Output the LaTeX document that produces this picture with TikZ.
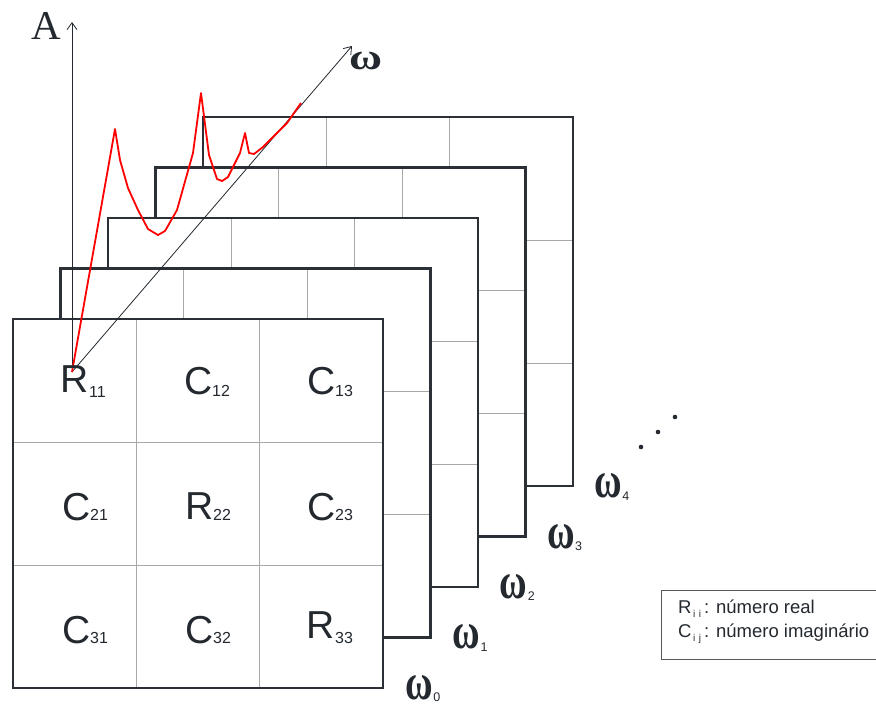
\documentclass[tikz,border=0pt]{standalone}
\usepackage{fontspec}
\usepackage{graphicx}
\setmainfont{Liberation Sans}
\newfontfamily\seriffont{Liberation Serif}
\usetikzlibrary{arrows.meta,calc}
\definecolor{framecol}{HTML}{2B3036}
\definecolor{gridcol}{HTML}{A8A8A8}
\definecolor{inkcol}{HTML}{23292F}
\definecolor{curvecol}{HTML}{FF0000}
\definecolor{legcol}{HTML}{555A5F}
\newcommand\bigomega{\scalebox{0.74}[1]{\fontsize{51}{51}\seriffont\bfseries ω}}
\begin{document}
\begin{tikzpicture}[x=1pt,y=-1pt,
  frameline/.style={draw=framecol, line width=2.6pt, line join=miter},
  gridline/.style={draw=gridcol, line width=1pt},
  axisline/.style={draw=inkcol, line width=0.8pt, -{Straight Barb[length=7pt,width=10pt]}},
  curveline/.style={draw=curvecol, line width=1.8pt, line join=round},
  bigtxt/.style={inner sep=0, text=inkcol, font=\fontsize{39}{39}\selectfont, anchor=base west},
  subtxt/.style={inner sep=0, text=inkcol, font=\fontsize{16}{16}\selectfont, anchor=base west},
  omegatxt/.style={inner sep=0, text=inkcol, anchor=base west},
  legtxt/.style={inner sep=0, text=inkcol, font=\fontsize{18.5}{18.5}\selectfont, anchor=base west}]
\useasboundingbox (0,0) rectangle (876,704);
\clip (0,0) rectangle (876,704);

% stacked frames, back to front
\foreach \k in {4,3,2,1,0}{
  \pgfmathsetmacro\fx{13+47.5*\k}
  \pgfmathsetmacro\fy{319-50.5*\k}
  \coordinate (f\k) at (\fx,\fy);
  \fill[white] (f\k) rectangle ++(370,369);
  \draw[gridline] ($(f\k)+(123.3,0)$) -- ++(0,369);
  \draw[gridline] ($(f\k)+(246.7,0)$) -- ++(0,369);
  \draw[gridline] ($(f\k)+(0,123)$) -- ++(370,0);
  \draw[gridline] ($(f\k)+(0,246)$) -- ++(370,0);
  \draw[frameline] (f\k) rectangle ++(370,369);
  \pgfmathsetmacro\ox{405+47.3*\k}
  \pgfmathsetmacro\oy{699-50.3*\k}
  \node[omegatxt] (w\k) at (\ox,\oy) {\bigomega\kern0.5pt\raisebox{-2.5pt}{\fontsize{12.5}{12.5}\selectfont\k}};
}

% axes
\coordinate (o) at (72,372);
\coordinate (atip) at (72,22);
\coordinate (wtip) at (352,46);
\draw[axisline] (o) -- (atip);
\draw[axisline] (o) -- (wtip);
\node[inner sep=0, text=inkcol, font=\fontsize{41}{41}\seriffont, anchor=base west] (alab) at (31,39) {A};
\node[inner sep=0, text=inkcol, anchor=base west] (wlab) at (349,69) {\scalebox{1.22}[1]{\fontsize{37}{37}\seriffont\bfseries ω}};

% red spectrum
\draw[curveline] (o) -- (115,129) -- (120,160) -- (128,188) -- (138,210) -- (148,229)
  -- (158,235) -- (165,231) -- (177,210) -- (193,153) -- (201,93) -- (209,155)
  -- (217,179) -- (222,181) -- (228,177) -- (240,153) -- (245,133) -- (249,153)
  -- (254,154) -- (263,147) -- (287,123) -- (301,103);

% cell labels
\node[bigtxt] (r11) at (60,392) {R};   \node[subtxt] (r11s) at (89,397) {11};
\node[bigtxt] (c12) at (184,394) {C};  \node[subtxt] (c12s) at (212,396) {12};
\node[bigtxt] (c13) at (307,394) {C};  \node[subtxt] (c13s) at (335,396) {13};
\node[bigtxt] (c21) at (62,520) {C};   \node[subtxt] (c21s) at (90,520) {21};
\node[bigtxt] (r22) at (185,519) {R};  \node[subtxt] (r22s) at (213,520) {22};
\node[bigtxt] (c23) at (307,520) {C};  \node[subtxt] (c23s) at (335,520) {23};
\node[bigtxt] (c31) at (62,643) {C};   \node[subtxt] (c31s) at (90,643) {31};
\node[bigtxt] (c32) at (185,643) {C};  \node[subtxt] (c32s) at (213,643) {32};
\node[bigtxt] (r33) at (306,638) {R};  \node[subtxt] (r33s) at (335,643) {33};

% continuation dots
\fill[inkcol] (641,447) circle (2.3);
\fill[inkcol] (658,432) circle (2.3);
\fill[inkcol] (675,417) circle (2.3);

% legend
\draw[legcol, line width=1pt] (661,590) rectangle (895,659);
\node[legtxt] (leg1) at (678,613) {R\raisebox{-4pt}{\fontsize{10}{10}\selectfont\,i\,\,i}\,: número real};
\node[legtxt] (leg2) at (678,637) {C\raisebox{-4pt}{\fontsize{10}{10}\selectfont\,i\,\,j}\,: número imaginário};
\end{tikzpicture}
\end{document}
